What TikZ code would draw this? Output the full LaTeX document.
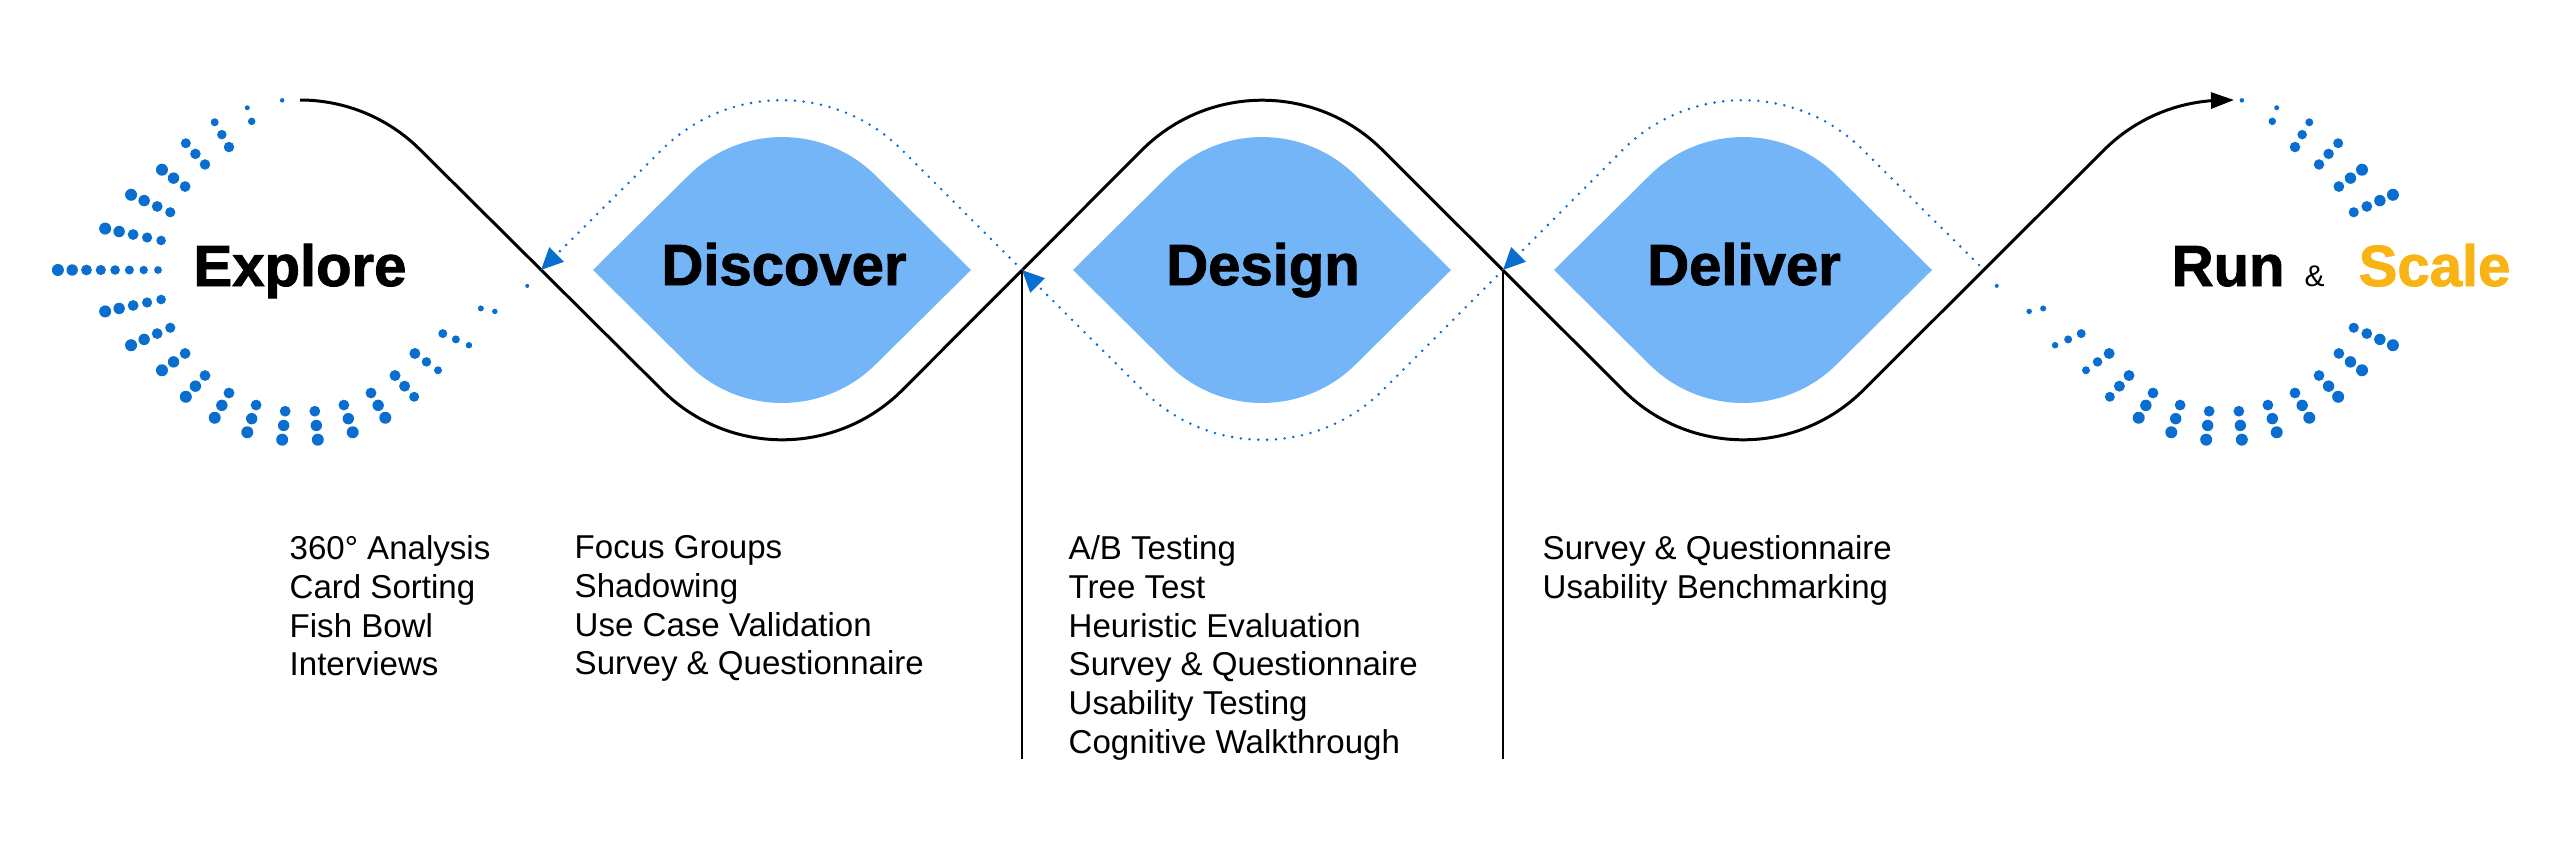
\documentclass[tikz,border=0pt]{standalone}
\usepackage{fontspec}
\setmainfont{Liberation Sans}
\newfontfamily\phasefont[FakeBold=1.6]{Liberation Sans Bold}
\usepackage{xcolor}
\usetikzlibrary{arrows.meta}

\definecolor{sapblue}{RGB}{10,110,209}
\definecolor{petalblue}{RGB}{116,181,247}
\definecolor{scalegold}{RGB}{248,180,20}

\begin{document}
\begin{tikzpicture}[x=0.01cm, y=-0.01cm]
    \tikzstyle{phase}=[inner sep=0, anchor=base,
      font=\fontsize{16.5pt}{18pt}\phasefont]
    \tikzstyle{tools}=[inner sep=0, anchor=north west, align=left,
      font=\fontsize{9.4pt}{11pt}\selectfont]
    \tikzstyle{petal}=[fill=petalblue]
    \tikzstyle{wave}=[line width=0.85pt, -{Triangle[length=0.23cm, width=0.16cm]}]
    \tikzstyle{feedback}=[sapblue, line width=0.8pt, line cap=round,
      dash pattern=on 0pt off 2.5pt, -{Triangle[length=0.22cm, width=0.2cm]}]
    \tikzstyle{gate}=[line width=0.4pt]
    \useasboundingbox (0,0) rectangle (2560,854);

    % blue petals behind the phase names
    \foreach \c in {782,1262,1743}
      \fill[petal] (\c-189,270) -- (\c-94,176) arc[start angle=225, end angle=315, radius=133]
        -- (\c+189,270) -- (\c+94,364) arc[start angle=45, end angle=135, radius=133] -- cycle;

    % dot bursts round Explore and Run & Scale
    \foreach \cx/\s in {300/1, 2224/-1} {
      \begin{scope}[shift={(\cx,270)}, xscale=\s]
        \foreach \a/\n in {204/4,156/4,216/3,144/3,132/3,120/3,108/3,96/3,84/3,72/3,60/3}
          \foreach \k in {1,...,\n}
            \fill[sapblue] (\a:{142+14.3*(\k-1)}) circle[radius={(12-0.6*(\n-\k))/2}];
        \foreach \a/\k/\d in {264/2/4.5, 252/1/7.5, 252/2/5, 240/0/10.5, 240/1/9.5, 240/2/8,
            228/0/10.5, 228/1/10.5, 228/2/10, 48/0/11, 48/1/11, 48/2/10, 36/0/11, 36/1/9.5, 36/2/8,
            24/1/9, 24/2/8, 24/3/6.5, 12/3/6, 12/4/5.5, 4/6/4}
          \fill[sapblue] (\a:{142+14.3*\k}) circle[radius=\d/2];
      \end{scope}
    }
    \begin{scope}[shift={(300,270)}]
      \foreach \a/\n in {180/8,192/5,168/5}
        \foreach \k in {1,...,\n}
          \fill[sapblue] (\a:{142+14.3*(\k-1)}) circle[radius={(12-0.6*(\n-\k))/2}];
    \end{scope}

    % crossings of the wave
    \coordinate (x1) at (541,270);
    \coordinate (x2) at (1022,270);
    \coordinate (x3) at (1503,270);
    \coordinate (x4) at (1979,265);
    \coordinate (f2) at (1022,759);
    \coordinate (f3) at (1503,759);

    % main wave
    \draw[wave] (300,100) arc[start angle=-90, end angle=-45, radius=170]
      -- (662,390) arc[start angle=135, end angle=45, radius=170]
      -- (1142,150) arc[start angle=225, end angle=315, radius=170]
      -- (1623,390) arc[start angle=135, end angle=45, radius=170]
      -- (2104,150) arc[start angle=225, end angle=270, radius=170] -- (2234,100);

    % loops back
    \draw[feedback] (x2) -- (902,150) arc[start angle=-45, end angle=-135, radius=170] -- (x1);
    \draw[feedback] (x3) -- (1383,390) arc[start angle=45, end angle=135, radius=170] -- (x2);
    \draw[feedback] (x4) -- (1863,150) arc[start angle=-45, end angle=-135, radius=170] -- (x3);

    \draw[gate] (x2) -- (f2);
    \draw[gate] (x3) -- (f3);

    \node[phase] (explore) at (300,286) {Explore};
    \node[phase] (discover) at (784,285) {Discover};
    \node[phase] (design) at (1263,285) {Design};
    \node[phase] (deliver) at (1744,285) {Deliver};
    \node[phase, anchor=base west] (run) at (2171,286) {Run};
    \node[inner sep=0, anchor=base west, font=\fontsize{8.5pt}{10pt}\selectfont] (amp) at (2304,286) {\&};
    \node[phase, anchor=base west, text=scalegold] (scale) at (2358,286) {Scale};

    \node[tools] (exptools) at (289,535) {360° Analysis\\Card Sorting\\Fish Bowl\\Interviews};
    \node[tools] (distools) at (574,535) {Focus Groups\\Shadowing\\Use Case Validation\\Survey \& Questionnaire};
    \node[tools] (destools) at (1068,535) {A/B Testing\\Tree Test\\Heuristic Evaluation\\Survey \& Questionnaire\\Usability Testing\\Cognitive Walkthrough};
    \node[tools] (deltools) at (1542,535) {Survey \& Questionnaire\\Usability Benchmarking};
\end{tikzpicture}
\end{document}
